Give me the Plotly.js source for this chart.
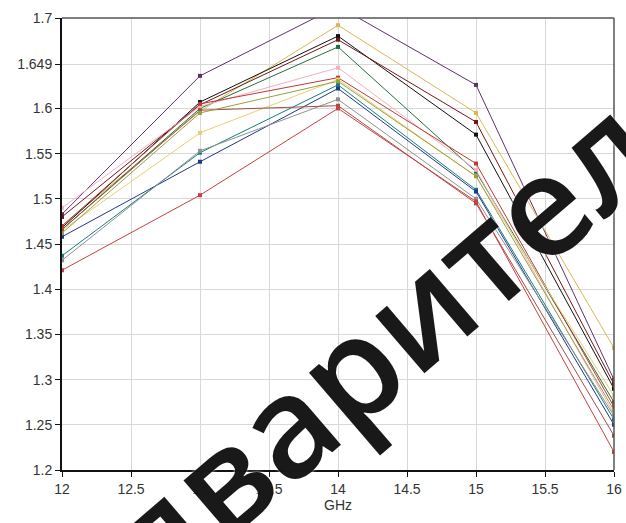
<!DOCTYPE html>
<html>
<head>
<meta charset="utf-8">
<script src="https://cdn.plot.ly/plotly-3.0.1.min.js"></script>
<style>html,body{margin:0;padding:0;background:#fff;}#chart{width:626px;height:523px;}</style>
</head>
<body>
<div id="chart"></div>
<script>
// Frequencies (GHz)
const freqs = [12, 13, 14, 15, 16];

// Series values
const sPurple = [1.483, 1.636, 1.713, 1.626, 1.300];
const sGold   = [1.470, 1.597, 1.692, 1.595, 1.335];
const sBlack  = [1.468, 1.607, 1.680, 1.571, 1.290];
const sMaroon = [1.480, 1.604, 1.676, 1.585, 1.295];
const sGreen  = [1.466, 1.600, 1.668, 1.530, 1.275];
const sPink   = [1.490, 1.602, 1.645, 1.532, 1.262];
const sRed    = [1.470, 1.605, 1.634, 1.539, 1.270];
const sYellow = [1.465, 1.573, 1.632, 1.525, 1.282];
const sTeal   = [1.437, 1.551, 1.626, 1.510, 1.256];
const sNavy   = [1.458, 1.541, 1.622, 1.508, 1.250];
const sGray   = [1.432, 1.553, 1.610, 1.500, 1.260];
const sBrown  = [1.466, 1.598, 1.603, 1.495, 1.238];
const sRedLow = [1.421, 1.504, 1.600, 1.497, 1.220];
const sOlive  = [1.462, 1.595, 1.630, 1.525, 1.266];

const seriesList = [sPurple, sGold, sBlack, sMaroon, sGreen, sPink, sRed, sYellow, sTeal, sNavy, sGray, sBrown, sRedLow, sOlive];
const seriesColors = ['#603068', '#d8b850', '#101010', '#701818', '#207040', '#f0b0c0', '#c03838', '#e8d070', '#108080', '#203890', '#909090', '#a05040', '#c84040', '#98a040'];

// Y tick labels
const yTickVals = [1.2, 1.25, 1.3, 1.35, 1.4, 1.45, 1.5, 1.55, 1.6, 1.649, 1.7];
const yTickText = ['1.2', '1.25', '1.3', '1.35', '1.4', '1.45', '1.5', '1.55', '1.6', '1.649', '1.7'];
const xTickVals = [12, 12.5, 13, 13.5, 14, 14.5, 15, 15.5, 16];
const xTickText = ['12', '12.5', '13', '13.5', '14', '14.5', '15', '15.5', '16'];
const xTitle = 'GHz';
const watermark = 'Предварительный';

const traces = seriesList.map((vals, i) => ({
  x: freqs, y: vals, type: 'scatter', mode: 'lines+markers',
  line: {color: seriesColors[i], width: 1},
  marker: {color: seriesColors[i], size: 4, symbol: 'square'},
  showlegend: false, hoverinfo: 'skip', cliponaxis: true
}));

const font = {family: 'Liberation Sans, Arial, sans-serif', size: 14, color: '#333'};

const layout = {
  width: 626, height: 523,
  margin: {l: 62, r: 12, t: 18, b: 53},
  paper_bgcolor: '#fff', plot_bgcolor: '#fff',
  font: font,
  xaxis: {
    range: [12, 16], tickvals: xTickVals, ticktext: xTickText,
    showgrid: true, gridcolor: '#d8d8d8', gridwidth: 1,
    zeroline: false, showline: true, linecolor: '#111', linewidth: 2,
    ticks: 'outside', ticklen: 5, tickcolor: '#111', tickwidth: 1,
    tickfont: font,
    title: {text: xTitle, font: font, standoff: 2}
  },
  yaxis: {
    range: [1.2, 1.7], tickvals: yTickVals, ticktext: yTickText,
    showgrid: true, gridcolor: '#d8d8d8', gridwidth: 1,
    zeroline: false, showline: true, linecolor: '#111', linewidth: 2,
    ticks: 'outside', ticklen: 5, tickcolor: '#111', tickwidth: 1,
    tickfont: font
  },
  shapes: [
    {type: 'line', xref: 'paper', yref: 'paper', x0: 0, x1: 1, y0: 1, y1: 1, line: {color: '#555', width: 1.5}},
    {type: 'line', xref: 'paper', yref: 'paper', x0: 1, x1: 1, y0: 0, y1: 1, line: {color: '#555', width: 1.5}}
  ],
  annotations: [
    {text: watermark, xref: 'paper', yref: 'paper', x: 0.648, y: 0.365,
     xanchor: 'center', yanchor: 'middle', showarrow: false, textangle: -40.6,
     font: {family: 'Open Sans, Liberation Sans, sans-serif', size: 140, color: 'rgba(0,0,0,0.9)', weight: 600,
            shadow: '0px 0px 3px #fff'}}
  ]
};

Plotly.newPlot('chart', traces, layout, {staticPlot: true, displayModeBar: false});
</script>
</body>
</html>
